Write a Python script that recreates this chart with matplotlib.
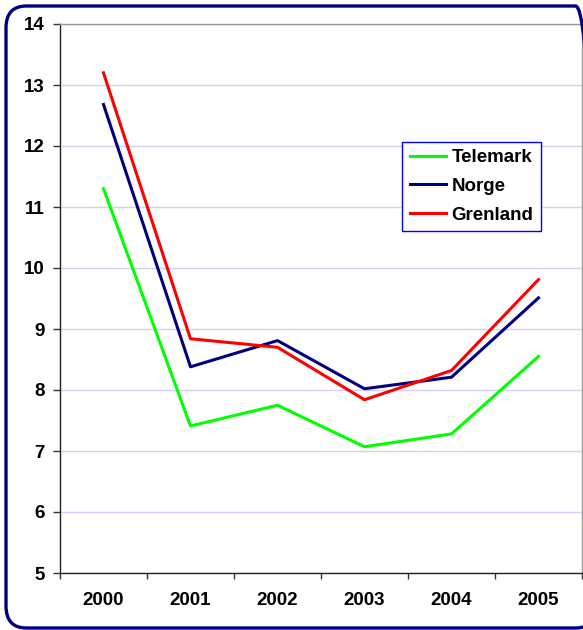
import numpy as np
import matplotlib.pyplot as plt
from matplotlib.patches import FancyBboxPatch

years = ['2000', '2001', '2002', '2003', '2004', '2005']
telemark = [11.30, 7.41, 7.75, 7.07, 7.28, 8.55]
norge = [12.68, 8.38, 8.81, 8.02, 8.21, 9.51]
grenland = [13.20, 8.84, 8.70, 7.84, 8.32, 9.81]

plt.rcParams['font.family'] = ['Liberation Sans', 'DejaVu Sans']
plt.rcParams['font.weight'] = 'bold'

fig = plt.figure(figsize=(5.83, 6.30), dpi=100)
ax = fig.add_axes([60/583, 1-573/630, 522/583, 549/630])

x = np.arange(len(years))
ax.plot(x, telemark, color='#00FF00', lw=2.2, label='Telemark')
ax.plot(x, norge, color='#000080', lw=2.2, label='Norge')
ax.plot(x, grenland, color='#FF0000', lw=2.2, label='Grenland')

ax.set_xlim(-0.5, 5.5)
ax.set_ylim(5, 14)
ax.set_yticks(range(5, 15))
ax.yaxis.grid(True, color='#D0D0F8', lw=1)
ax.set_axisbelow(True)

ax.set_xticks(x)
ax.set_xticklabels(years)
ax.set_xticks(np.arange(-0.5, 6, 1), minor=True)
ax.tick_params(axis='x', which='major', length=0, pad=14, labelsize=13.5)
ax.tick_params(axis='x', which='minor', length=4, width=1, direction='out', color='#333333')
ax.tick_params(axis='y', length=5, width=1, direction='out', pad=6, labelsize=13.5, color='#333333')

for s in ['left', 'bottom']:
    ax.spines[s].set_color('#222222')
    ax.spines[s].set_linewidth(1)
for s in ['top', 'right']:
    ax.spines[s].set_color('#999999')
    ax.spines[s].set_linewidth(1)

leg = fig.legend(loc='upper left', bbox_to_anchor=(402/583, 1-141.5/630),
                 bbox_transform=fig.transFigure, fancybox=False, framealpha=1,
                 edgecolor='#0000FF', fontsize=13.5, handlelength=1.95,
                 handletextpad=0.3, labelspacing=0.62, borderpad=0.4,
                 borderaxespad=0)
leg.get_frame().set_linewidth(1)

border = FancyBboxPatch((6/583, 1-628/630), 590/583, 622/630,
                        boxstyle='round,pad=0,rounding_size=0.035',
                        transform=fig.transFigure, fill=False,
                        edgecolor='#000080', lw=2.4, clip_on=False)
fig.patches.append(border)

fig.savefig('out.png', dpi=100)
